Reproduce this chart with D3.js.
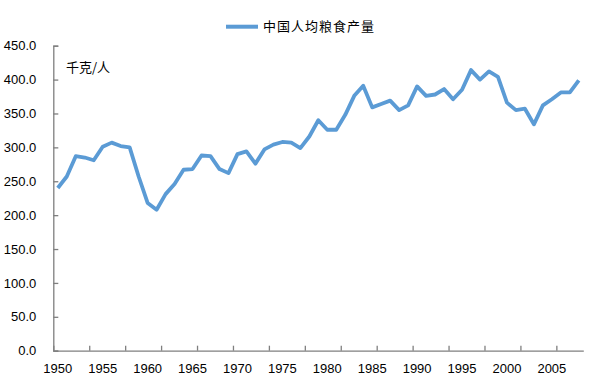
<!DOCTYPE html>
<html>
<head>
<meta charset="utf-8">
<script src="https://cdn.jsdelivr.net/npm/d3@7"></script>
<style>
  body { margin: 0; background: #fff; }
  text { font-family: "Liberation Sans", Arial, sans-serif; fill: #000; }
  .cjk { font-family: "Noto Sans CJK SC", "Liberation Sans", sans-serif; }
</style>
</head>
<body>
<div id="chart"></div>
<script>
const width = 606, height = 387;

// data
const years = d3.range(1950, 2009);
const grain = [240, 257, 287, 285, 281, 301, 307, 302, 300, 257,
               218, 208, 231, 246, 267, 268, 288, 287, 268, 262,
               290, 294, 276, 297, 304, 308, 307, 299, 316, 340,
               326, 326, 348, 376, 391, 359, 364, 369, 355, 362,
               390, 376, 378, 386, 371, 385, 414, 400, 412, 404,
               366, 355, 357, 334, 362, 371, 381, 381, 399];
const yTicks = d3.range(0, 451, 50);
const xLabelYears = years.filter(y => y % 5 === 0 && y <= 2005);
const seriesName = "中国人均粮食产量";
const unitLabel = "千克/人";

const plotLeft = 53.3, plotRight = 583.3, plotTop = 45.7, plotBottom = 350.7;
const lineColor = "#5b9bd5", axisColor = "#7f7f7f";

const svg = d3.select("#chart").append("svg")
    .attr("width", width)
    .attr("height", height);

const x = d3.scaleBand()
    .domain(years)
    .range([plotLeft, plotRight])
    .padding(0);

// boundary scale for tick marks (one every 4 categories)
const xEdge = d3.scaleLinear()
    .domain([0, years.length])
    .range([plotLeft, plotRight]);

const y = d3.scaleLinear()
    .domain([0, 450])
    .range([plotBottom, plotTop]);

// y axis
const yAxis = svg.append("g")
    .attr("transform", `translate(${plotLeft},0)`)
    .call(d3.axisLeft(y).tickValues(yTicks).tickSize(-5).tickPadding(17).tickFormat(d3.format(".1f")));
yAxis.selectAll("text").attr("font-size", 13).style("font-family", '"Liberation Sans", Arial, sans-serif');

// x axis: tick marks
const xTicks = svg.append("g")
    .attr("transform", `translate(0,${plotBottom})`)
    .call(d3.axisBottom(xEdge).tickValues(d3.range(0, years.length, 4)).tickSize(-5).tickSizeOuter(0).tickFormat(""));

// x axis: labels
const xLabels = svg.append("g")
    .attr("transform", `translate(0,${plotBottom})`)
    .call(d3.axisBottom(x).tickValues(xLabelYears).tickSize(0).tickPadding(13));
xLabels.select(".domain").remove();
xLabels.selectAll("text").attr("font-size", 13).style("font-family", '"Liberation Sans", Arial, sans-serif');

[yAxis, xTicks].forEach(g => {
    g.select(".domain").attr("stroke", axisColor).attr("stroke-width", 1.3);
    g.selectAll(".tick line").attr("stroke", axisColor).attr("stroke-width", 1.3);
});

// series line
const line = d3.line()
    .x((d, i) => x(years[i]) + x.bandwidth() / 2)
    .y(d => y(d));

svg.append("path")
    .datum(grain)
    .attr("fill", "none")
    .attr("stroke", lineColor)
    .attr("stroke-width", 3.8)
    .attr("stroke-linejoin", "round")
    .attr("d", line);

// unit label
svg.append("text")
    .attr("class", "cjk")
    .attr("x", 66)
    .attr("y", 72)
    .attr("font-size", 13)
    .text(unitLabel);

// legend
const legend = svg.append("g").attr("transform", "translate(226,26.7)");
legend.append("line")
    .attr("x1", 0).attr("x2", 32)
    .attr("stroke", lineColor)
    .attr("stroke-width", 4);
legend.append("text")
    .attr("class", "cjk")
    .attr("x", 37)
    .attr("dy", "0.35em")
    .attr("font-size", 13)
    .attr("letter-spacing", 1)
    .text(seriesName);
</script>
</body>
</html>
